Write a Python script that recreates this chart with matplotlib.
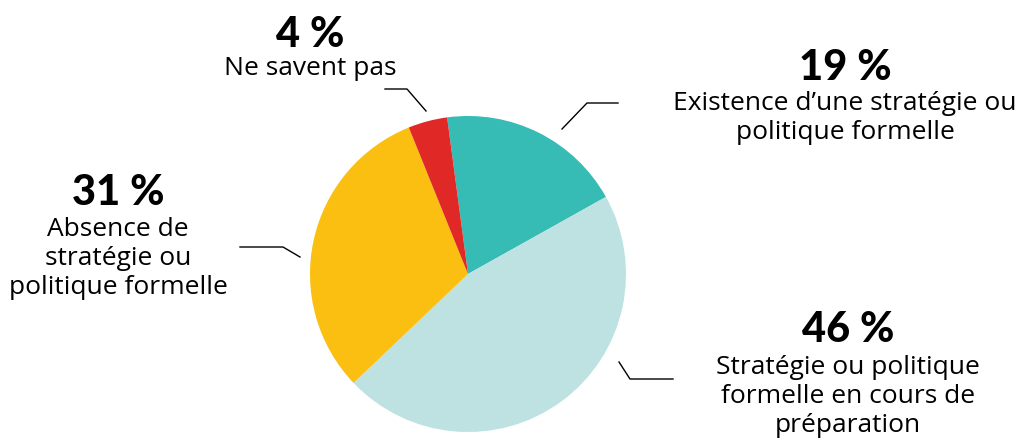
import matplotlib.pyplot as plt

# données du graphique
labels = ["Existence d\u2019une stratégie ou\npolitique formelle",
          "Stratégie ou politique\nformelle en cours de\npréparation",
          "Absence de\nstratégie ou\npolitique formelle",
          "Ne savent pas"]
values = [19, 46, 31, 4]
colors = ["#36bbb5", "#bee2e1", "#fbbf12", "#e02826"]

W, H = 1022, 438
fig = plt.figure(figsize=(W / 100, H / 100), dpi=100)
ax = fig.add_axes([0, 0, 1, 1])

ax.pie(values, colors=colors, startangle=97.6, counterclock=False,
       center=(468, H - 274), radius=158, frame=True,
       wedgeprops=dict(linewidth=0))
ax.set_xlim(0, W)
ax.set_ylim(0, H)
ax.set_aspect("equal")
ax.axis("off")

# position du texte (pourcentage, libellé) et des traits de rappel, en pixels
txt_pos = [(845, 68, 102), (848, 330, 366), (118, 193, 228), (310, 35, 67)]
leaders = [[(562, 129), (587, 103), (618, 103)],
           [(619, 362), (630, 379), (673, 379)],
           [(300, 257), (283, 247), (240, 247)],
           [(426, 111), (407, 89), (385, 89)]]

for lab, v, (x, yp, yl), pts in zip(labels, values, txt_pos, leaders):
    ax.text(x, H - yp, f"{v} %", ha="center", va="center",
            family="Lato", fontweight="black", fontsize=30)
    ax.text(x, H - yl + 11, lab, ha="center", va="top",
            family=["Open Sans", "DejaVu Sans"], fontsize=19,
            linespacing=1.2)
    ax.plot([p[0] for p in pts], [H - p[1] for p in pts], color="black", lw=1)

fig.savefig("out.png", dpi=100)
